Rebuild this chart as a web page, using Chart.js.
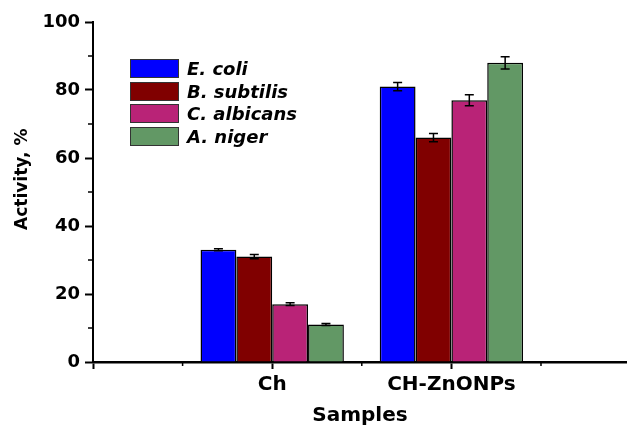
<!DOCTYPE html>
<html>
<head>
<meta charset="utf-8">
<script src="https://cdn.jsdelivr.net/npm/chart.js@4.4.1/dist/chart.umd.min.js"></script>
<style>
  body { margin: 0; background: #fff; }
  #wrap { position: relative; width: 627px; height: 425px; }
  #legend { position: absolute; left: 130px; top: 57px; font: italic bold 18px "DejaVu Sans", sans-serif; color: #000; }
  .row { display: flex; align-items: center; height: 22.7px; }
  .box { width: 49px; height: 19px; border: 1px solid #333; box-sizing: border-box; margin-right: 8px; }
</style>
</head>
<body>
<div id="wrap">
  <canvas id="chart" width="627" height="425"></canvas>
  <div id="legend"></div>
</div>
<script>
const categories = ['Ch', 'CH-ZnONPs'];
const categoryPos = [1, 2];
const seriesNames = ['E. coli', 'B. subtilis', 'C. albicans', 'A. niger'];
const seriesColors = ['#0000ff', '#800000', '#b92377', '#629865'];

const eColi = [33, 81];
const eColiErr = [0.3, 1.2];
const bSubtilis = [31, 66];
const bSubtilisErr = [0.6, 1.2];
const cAlbicans = [17, 77];
const cAlbicansErr = [0.4, 1.6];
const aNiger = [11, 88];
const aNigerErr = [0.3, 1.8];

const yTicks = [0, 20, 40, 60, 80, 100];
const xTicks = [0, 1, 2];

const values = [eColi, bSubtilis, cAlbicans, aNiger];
const errors = [eColiErr, bSubtilisErr, cAlbicansErr, aNigerErr];

const FONT = '"DejaVu Sans", sans-serif';

// error bars drawn on top of each bar
const errorBars = {
    id: 'errorBars',
    afterDatasetsDraw(chart) {
        const ctx = chart.ctx;
        const y = chart.scales.y;
        ctx.save();
        ctx.strokeStyle = '#000';
        ctx.lineWidth = 1.5;
        chart.data.datasets.forEach((ds, i) => {
            const meta = chart.getDatasetMeta(i);
            meta.data.forEach((bar, j) => {
                const v = ds.data[j].y;
                const e = errors[i][j];
                const top = y.getPixelForValue(v + e);
                const bot = y.getPixelForValue(v - e);
                ctx.beginPath();
                ctx.moveTo(bar.x, top);
                ctx.lineTo(bar.x, bot);
                ctx.moveTo(bar.x - 4.5, top);
                ctx.lineTo(bar.x + 4.5, top);
                ctx.moveTo(bar.x - 4.5, bot);
                ctx.lineTo(bar.x + 4.5, bot);
                ctx.stroke();
            });
        });
        ctx.restore();
    }
};

// short minor ticks halfway between the major ones
const minorTicks = {
    id: 'minorTicks',
    afterDraw(chart) {
        const ctx = chart.ctx;
        const {x, y} = chart.scales;
        ctx.save();
        ctx.strokeStyle = '#000';
        ctx.lineWidth = 1.5;
        ctx.beginPath();
        xTicks.forEach(t => {
            const v = t + 0.5;
            if (v > x.max) return;
            const px = x.getPixelForValue(v);
            ctx.moveTo(px, y.bottom);
            ctx.lineTo(px, y.bottom + 4);
        });
        yTicks.forEach(t => {
            const v = t + 10;
            if (v > y.max) return;
            const py = y.getPixelForValue(v);
            ctx.moveTo(x.left, py);
            ctx.lineTo(x.left - 5, py);
        });
        ctx.stroke();
        ctx.restore();
    }
};

const datasets = seriesNames.map((name, i) => ({
    label: name,
    data: categoryPos.map((p, j) => ({x: p, y: values[i][j]})),
    backgroundColor: seriesColors[i],
    borderColor: '#000',
    borderWidth: 1.5,
    categoryPercentage: 0.8,
    barPercentage: 1
}));

new Chart(document.getElementById('chart'), {
    type: 'bar',
    data: { datasets: datasets },
    options: {
        responsive: false,
        animation: false,
        layout: { padding: { top: 22, right: 0, left: 0, bottom: 0 } },
        plugins: {
            legend: { display: false },
            tooltip: { enabled: false }
        },
        scales: {
            x: {
                type: 'linear',
                min: 0,
                max: 2.98,
                offset: false,
                afterBuildTicks: scale => { scale.ticks = xTicks.map(v => ({value: v})); },
                afterFit: scale => { scale.height = 63; },
                grid: { offset: false, drawOnChartArea: false, tickLength: 7, tickColor: '#000', tickWidth: 2 },
                border: { color: '#000', width: 2.5 },
                ticks: {
                    padding: 4,
                    color: '#000',
                    font: { family: FONT, size: 20, weight: 'bold' },
                    callback: v => {
                        const k = categoryPos.indexOf(v);
                        return k >= 0 ? categories[k] : '';
                    }
                },
                title: {
                    display: true,
                    text: 'Samples',
                    color: '#000',
                    padding: { top: 0, bottom: 0 },
                    font: { family: FONT, size: 20, weight: 'bold', lineHeight: 0.9 }
                }
            },
            y: {
                min: 0,
                max: 100,
                afterBuildTicks: scale => { scale.ticks = yTicks.map(v => ({value: v})); },
                afterFit: scale => { scale.width = 93; },
                grid: { drawOnChartArea: false, tickLength: 8, tickColor: '#000', tickWidth: 2 },
                border: { color: '#000', width: 2 },
                ticks: {
                    padding: 5,
                    color: '#000',
                    font: { family: FONT, size: 18, weight: 'bold' }
                },
                title: {
                    display: true,
                    // leading spaces nudge the centred title up a little, like the original
                    text: '\u2003\u2002Activity, %',
                    color: '#000',
                    padding: { top: 12, bottom: 0 },
                    font: { family: FONT, size: 17, weight: 'bold' }
                }
            }
        }
    },
    plugins: [errorBars, minorTicks]
});

// legend inside the plot area
const legendEl = document.getElementById('legend');
seriesNames.forEach((name, i) => {
    const row = document.createElement('div');
    row.className = 'row';
    const box = document.createElement('span');
    box.className = 'box';
    box.style.background = seriesColors[i];
    const label = document.createElement('span');
    label.textContent = name;
    row.appendChild(box);
    row.appendChild(label);
    legendEl.appendChild(row);
});
</script>
</body>
</html>
